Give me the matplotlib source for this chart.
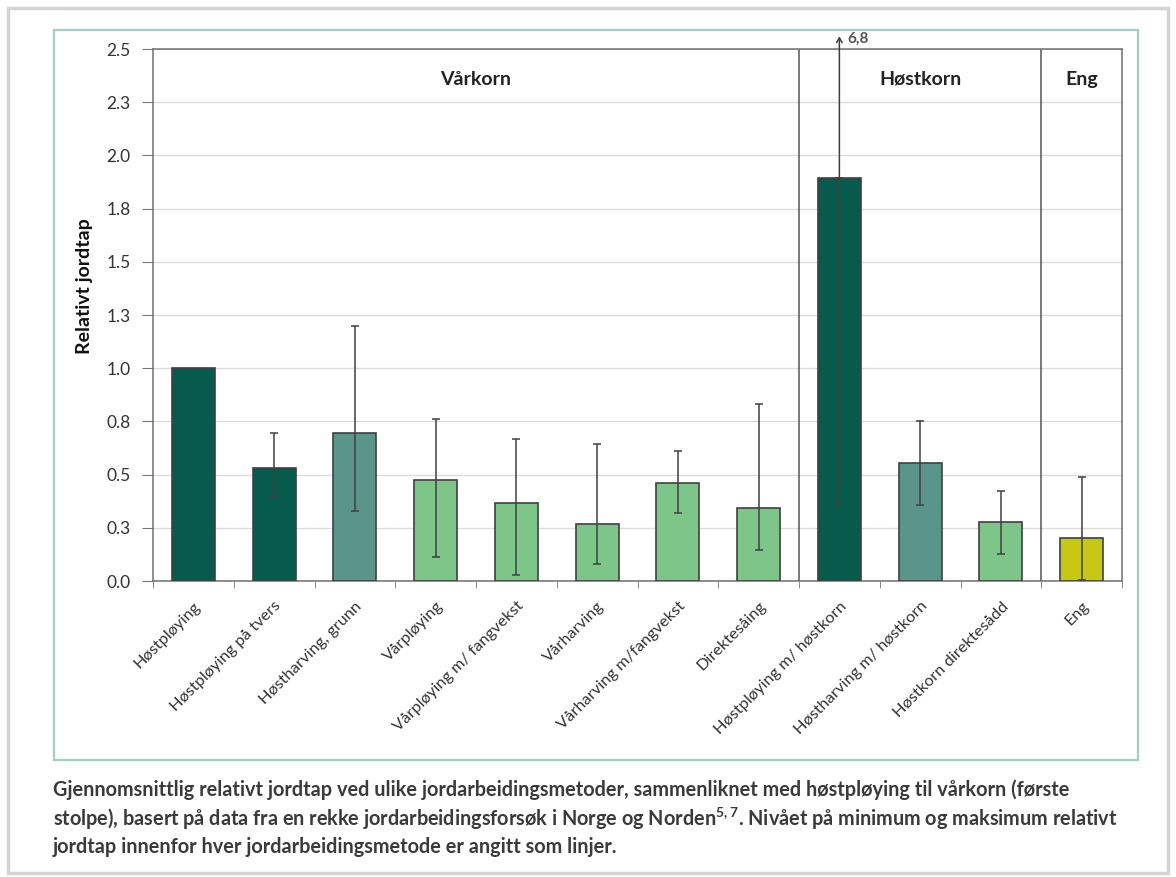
import matplotlib.pyplot as plt
import matplotlib.patches as patches
import numpy as np

plt.rcParams['font.family'] = ['Lato', 'DejaVu Sans']
plt.rcParams['mathtext.fontset'] = 'custom'
plt.rcParams['mathtext.rm'] = 'Lato'
plt.rcParams['mathtext.bf'] = 'Lato:bold'

# data
categories = ['Høstpløying', 'Høstpløying på tvers', 'Høstharving, grunn', 'Vårpløying',
              'Vårpløying m/ fangvekst', 'Vårharving', 'Vårharving m/fangvekst', 'Direktesåing',
              'Høstpløying m/ høstkorn', 'Høstharving m/ høstkorn', 'Høstkorn direktesådd', 'Eng']
values = [1.0, 0.533, 0.697, 0.476, 0.366, 0.268, 0.46, 0.344, 1.893, 0.554, 0.278, 0.204]
min_vals = [np.nan, 0.397, 0.328, 0.114, 0.028, 0.079, 0.319, 0.145, 0.358, 0.358, 0.129, 0.005]
max_vals = [np.nan, 0.697, 1.197, 0.761, 0.669, 0.646, 0.609, 0.83, 6.8, 0.75, 0.425, 0.49]
colors = ['#075b4c', '#075b4c', '#5b9488', '#7dc589', '#7dc589', '#7dc589', '#7dc589',
          '#7dc589', '#075b4c', '#5b9488', '#7dc589', '#c7c815']
groups = ['Vårkorn', 'Høstkorn', 'Eng']
group_sizes = [8, 3, 1]
yticks = [0, 0.25, 0.5, 0.75, 1.0, 1.25, 1.5, 1.75, 2.0, 2.25, 2.5]
ytick_labels = ['0.0', '0.3', '0.5', '0.8', '1.0', '1.3', '1.5', '1.8', '2.0', '2.3', '2.5']
caption = ('Gjennomsnittlig relativt jordtap ved ulike jordarbeidingsmetoder, sammenliknet med høstpløying til vårkorn (første\n'
           'stolpe), basert på data fra en rekke jordarbeidingsforsøk i Norge og Norden$^{\\mathbf{5,7}}$. Nivået på minimum og maksimum relativt\n'
           'jordtap innenfor hver jordarbeidingsmetode er angitt som linjer.')

fig = plt.figure(figsize=(11.76, 8.77), dpi=100)

# outer shadow frame and teal frame
fig.patches.append(patches.Rectangle((0.007, 0.005), 0.986, 0.986, transform=fig.transFigure,
                                     fill=False, edgecolor='#d4d4d4', linewidth=2.5))
fig.patches.append(patches.Rectangle((54 / 1176, 1 - 760 / 877), (1138 - 54) / 1176, (760 - 30) / 877,
                                     transform=fig.transFigure, fill=False,
                                     edgecolor='#a3cdc5', linewidth=1.6))

ax = fig.add_axes([153 / 1176, 1 - 581 / 877, (1122 - 153) / 1176, (581 - 49) / 877])
x = np.arange(len(categories))
ymax = 2.5

ax.bar(x, values, width=0.53, color=colors, edgecolor='#404040', linewidth=1.2, zorder=3)

# error bars (min/max); a max beyond the axis is drawn as an arrow with its value
vals = np.array(values)
lo = np.array(min_vals)
hi = np.array(max_vals)
inside = ~np.isnan(lo) & (hi <= ymax)
outside = ~np.isnan(lo) & (hi > ymax)
ax.errorbar(x[inside], vals[inside], yerr=[vals[inside] - lo[inside], hi[inside] - vals[inside]],
            fmt='none', ecolor='#404040', elinewidth=1.1, capsize=3, capthick=1.1, zorder=4)
ax.errorbar(x[outside], vals[outside], yerr=[vals[outside] - lo[outside], np.zeros(outside.sum())],
            fmt='none', ecolor='#404040', elinewidth=1.1, capsize=3, capthick=1.1, zorder=4)
for i in np.where(outside)[0]:
    ax.annotate('', xy=(x[i], ymax + 0.06), xytext=(x[i], vals[i]),
                arrowprops=dict(arrowstyle='->,head_length=0.35,head_width=0.2', color='#404040',
                                lw=1.1, shrinkA=0, shrinkB=0),
                annotation_clip=False, zorder=4)
    ax.text(x[i] + 0.1, ymax + 0.05, f'{hi[i]:g}'.replace('.', ','), fontsize=11,
            fontweight='bold', color='#555555', va='center', ha='left', clip_on=False)

# group separators and labels
start = -0.5
for g, n in zip(groups, group_sizes):
    end = start + n
    if end < len(categories) - 0.5:
        ax.axvline(end, color='#555555', linewidth=1.1, zorder=2)
    ax.text((start + end) / 2, 0.943, g, transform=ax.get_xaxis_transform(),
            ha='center', va='center', fontsize=14, fontweight='bold', color='#222222')
    start = end

ax.set_xlim(-0.5, len(categories) - 0.5)
ax.set_ylim(0, ymax)
ax.set_yticks(yticks)
ax.set_yticklabels(ytick_labels, fontsize=12.5, color='#333333')
ax.set_xticks(x)
ax.set_xticklabels(categories, rotation=45, ha='right', rotation_mode='anchor',
                   fontsize=11.8, color='#333333')
ax.set_xticks(np.arange(-0.5, len(categories) + 0.5, 1), minor=True)
ax.tick_params(axis='x', which='major', length=0, pad=13)
ax.tick_params(axis='x', which='minor', length=5, color='#777777', direction='out')
ax.tick_params(axis='y', length=8, color='#777777', pad=8)
ax.grid(axis='y', color='#dcdcdc', linewidth=1.0, zorder=0)
ax.set_axisbelow(True)
for s in ax.spines.values():
    s.set_color('#707070')
    s.set_linewidth(1.1)
ax.set_ylabel('Relativt jordtap', fontsize=14, fontweight='bold', color='#111111')
ax.yaxis.set_label_coords(-0.062, 0.555)

fig.text(53 / 1176, 1 - 779 / 877, caption, ha='left', va='top', fontsize=14.3,
         fontweight='bold', color='#3a3a3a', linespacing=1.32)

fig.savefig('out.png', dpi=100)
